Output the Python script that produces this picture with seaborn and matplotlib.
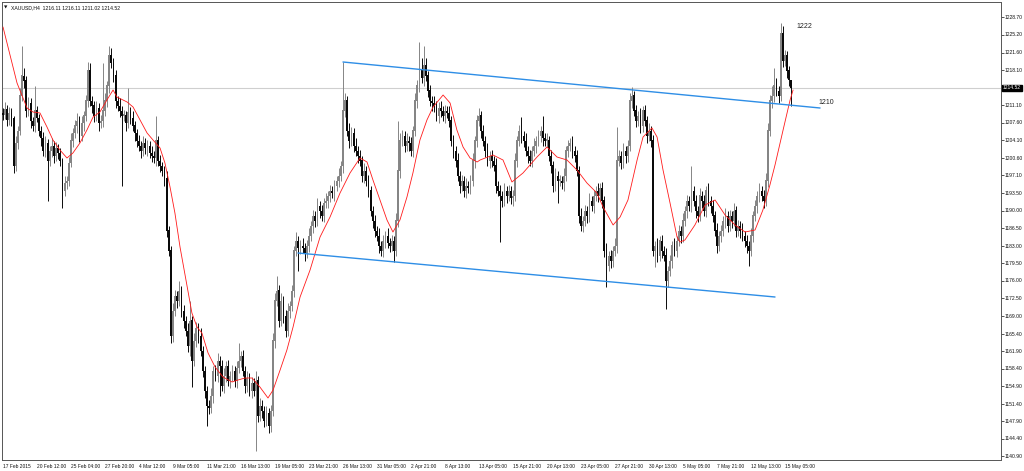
import numpy as np
import pandas as pd
import matplotlib
matplotlib.use("Agg")
import matplotlib.pyplot as plt
import matplotlib.transforms as mtransforms
import seaborn as sns

# XAUUSD H4 closes, one per bar (17 Feb 2015 20:00 .. 15 May 2015)
closes = [
    1209.1, 1210.3, 1208.2, 1209.5, 1208.5, 1199.0, 1203.5, 1206.0, 1213.0, 1217.0, 1216.0, 1210.0,
    1211.5, 1208.0, 1207.0, 1210.0, 1208.5, 1206.0, 1204.5, 1202.0, 1203.5, 1200.0, 1202.0, 1203.0,
    1201.0, 1202.5, 1201.5, 1200.0, 1194.0, 1195.5, 1196.0, 1199.5, 1204.0, 1205.5, 1207.0, 1208.0,
    1205.0, 1207.5, 1209.0, 1212.0, 1218.0, 1212.0, 1211.0, 1209.0, 1210.5, 1207.5, 1208.0, 1210.0,
    1212.0, 1215.0, 1221.0, 1219.5, 1217.0, 1212.0, 1211.0, 1210.0, 1209.0, 1209.0, 1207.5, 1209.7,
    1208.5, 1207.0, 1205.5, 1204.0, 1203.0, 1202.0, 1203.5, 1202.5, 1203.0, 1201.5, 1201.0, 1200.5,
    1204.0, 1200.0, 1199.0, 1198.0, 1196.5, 1186.0, 1182.0, 1165.0, 1170.0, 1173.0, 1172.0, 1174.0,
    1170.0, 1168.0, 1166.0, 1163.0, 1168.0, 1160.0, 1164.0, 1166.5, 1165.0, 1162.0, 1158.0, 1154.0,
    1151.0, 1150.5, 1153.0, 1158.0, 1157.0, 1160.0, 1159.0, 1155.0, 1157.0, 1159.0, 1156.0, 1157.0,
    1158.0, 1156.0, 1158.5, 1160.0, 1161.0, 1158.0, 1155.0, 1156.5, 1154.0, 1155.5, 1154.0, 1156.0,
    1149.0, 1151.0, 1150.0, 1148.0, 1149.5, 1147.0, 1150.0, 1164.0, 1172.0, 1174.0, 1168.0, 1172.0,
    1169.0, 1166.0, 1170.0, 1171.0, 1174.0, 1182.0, 1184.0, 1182.5, 1183.0, 1182.5, 1181.5, 1183.0,
    1185.0, 1187.0, 1189.0, 1188.0, 1191.0, 1190.0, 1189.0, 1191.5, 1192.0, 1193.0, 1194.0, 1193.5,
    1195.0, 1196.0, 1197.0, 1199.0, 1210.0, 1212.0, 1206.0, 1204.0, 1205.5, 1203.0, 1202.0, 1201.0,
    1200.0, 1197.0, 1198.0, 1196.0, 1194.0, 1190.0, 1188.0, 1186.0, 1185.0, 1183.0, 1182.0, 1184.0,
    1185.0, 1183.5, 1183.0, 1184.0, 1182.0, 1188.0, 1198.0, 1204.0, 1205.0, 1203.0, 1204.0, 1203.5,
    1202.0, 1206.0, 1212.0, 1215.0, 1218.0, 1216.5, 1219.0, 1217.0, 1214.0, 1212.0, 1211.5, 1211.0,
    1209.0, 1210.5, 1210.0, 1209.0, 1210.0, 1209.5, 1208.0, 1204.0, 1202.0, 1200.0, 1197.0, 1195.0,
    1196.0, 1194.0, 1195.0, 1194.5, 1196.0, 1200.0, 1204.0, 1208.0, 1209.0, 1206.0, 1204.0, 1202.0,
    1200.0, 1201.0, 1200.0, 1199.0, 1195.0, 1194.0, 1193.0, 1192.0, 1194.0, 1193.0, 1194.0, 1192.5,
    1193.0, 1200.0, 1204.0, 1206.0, 1205.0, 1204.0, 1202.0, 1201.0, 1200.0, 1202.0, 1203.0, 1204.0,
    1205.0, 1206.0, 1204.5, 1204.0, 1204.0, 1201.0, 1199.0, 1195.0, 1197.0, 1196.0, 1196.0, 1195.5,
    1197.0, 1202.0, 1203.0, 1203.5, 1202.0, 1201.0, 1198.0, 1189.0, 1187.0, 1188.0, 1190.0, 1189.0,
    1192.0, 1191.0, 1193.0, 1194.0, 1193.0, 1194.5, 1192.0, 1182.0, 1179.0, 1181.0, 1180.0, 1182.0,
    1183.0, 1200.0, 1201.0, 1199.5, 1202.0, 1201.0, 1203.0, 1212.0, 1213.0, 1210.0, 1208.0, 1209.0,
    1207.0, 1210.0, 1208.0, 1205.0, 1206.0, 1204.0, 1182.0, 1183.0, 1181.0, 1184.0, 1182.0, 1181.0,
    1176.0, 1178.0, 1180.0, 1183.0, 1182.0, 1184.0, 1186.0, 1185.0, 1188.0, 1190.0, 1192.0, 1191.0,
    1194.0, 1192.0, 1190.0, 1189.0, 1193.0, 1192.0, 1190.0, 1194.0, 1192.0, 1191.0, 1189.0, 1186.0,
    1183.0, 1185.0, 1186.0, 1188.0, 1189.0, 1187.0, 1189.0, 1188.0, 1190.0, 1186.0, 1187.0, 1186.0,
    1185.0, 1184.0, 1183.0, 1182.0, 1185.0, 1189.0, 1191.0, 1193.0, 1194.0, 1193.0, 1192.0, 1196.0,
    1206.0, 1212.0, 1213.0, 1215.0, 1214.0, 1213.0, 1225.5, 1220.0, 1221.0, 1218.0, 1216.1, 1214.5,
]
first_open = 1209.5

# wick lengths above / below the body, in dollars
upper_wicks = [
    1.0, 1.5, 0.8, 1.2, 1.0, 0.5, 1.5, 1.0, 1.5, 6.0, 1.5, 1.0,
    1.2, 1.0, 0.8, 5.0, 1.0, 0.8, 1.0, 1.2, 1.5, 0.8, 1.0, 1.5,
    1.0, 1.2, 0.8, 1.0, 0.5, 1.5, 1.0, 1.2, 1.5, 1.0, 1.2, 1.5,
    1.0, 1.5, 1.0, 1.2, 1.7, 1.5, 1.0, 1.0, 1.5, 1.0, 1.2, 9.5,
    1.5, 1.0, 2.0, 1.5, 1.0, 1.2, 1.0, 1.5, 1.0, 1.2, 1.0, 4.8,
    1.0, 1.5, 1.0, 0.8, 1.2, 1.0, 1.5, 1.0, 1.2, 1.0, 1.5, 1.0,
    5.0, 1.0, 1.2, 0.8, 1.0, 1.5, 1.0, 1.0, 1.5, 1.2, 1.0, 2.0,
    1.0, 1.2, 1.0, 1.5, 4.0, 1.0, 1.5, 1.2, 1.0, 1.5, 1.0, 1.0,
    1.0, 1.2, 1.5, 1.0, 1.2, 1.5, 1.0, 1.2, 1.5, 1.0, 1.2, 1.0,
    1.2, 1.0, 1.5, 3.5, 1.0, 1.2, 1.0, 1.5, 1.0, 1.2, 1.0, 2.0,
    1.0, 1.5, 1.2, 1.0, 1.5, 1.0, 1.2, 1.5, 1.5, 3.0, 1.2, 1.5,
    1.0, 1.2, 1.5, 1.0, 1.2, 1.0, 1.7, 1.0, 1.2, 1.5, 1.0, 1.2,
    1.5, 1.0, 1.2, 1.0, 1.5, 1.0, 1.2, 1.0, 1.5, 1.0, 1.2, 1.0,
    1.2, 1.0, 1.5, 1.0, 9.7, 1.5, 1.0, 1.5, 1.2, 1.0, 1.5, 1.0,
    1.2, 1.0, 1.5, 1.0, 1.2, 1.0, 1.0, 1.2, 1.0, 1.5, 1.0, 1.2,
    1.0, 1.5, 1.0, 1.2, 1.0, 1.5, 10.0, 1.5, 1.2, 1.0, 1.5, 1.0,
    1.2, 1.0, 1.5, 1.2, 5.7, 2.5, 4.0, 1.5, 1.0, 1.2, 1.0, 1.5,
    1.0, 1.2, 1.5, 1.0, 1.2, 1.0, 1.5, 1.0, 1.2, 1.0, 1.5, 1.0,
    1.2, 1.0, 1.5, 1.0, 1.2, 1.5, 1.0, 1.2, 1.5, 1.0, 1.2, 1.0,
    1.5, 1.0, 1.2, 1.0, 1.5, 1.0, 1.2, 1.0, 1.5, 1.0, 1.2, 1.0,
    1.2, 1.5, 1.0, 1.2, 2.7, 1.0, 1.5, 1.0, 1.2, 1.0, 1.5, 1.0,
    1.2, 1.0, 3.0, 1.0, 1.5, 1.0, 1.2, 1.0, 1.5, 1.0, 1.2, 1.0,
    1.5, 1.0, 1.2, 1.0, 1.5, 1.0, 1.2, 1.0, 1.5, 1.0, 1.2, 1.0,
    1.5, 1.0, 1.2, 1.0, 1.5, 1.0, 1.2, 1.0, 1.5, 1.0, 1.2, 1.0,
    1.5, 6.7, 1.2, 1.0, 1.5, 1.0, 1.2, 1.5, 1.7, 1.0, 1.2, 1.0,
    1.5, 1.0, 1.2, 1.0, 1.5, 1.0, 1.2, 1.0, 1.5, 1.0, 1.2, 1.0,
    1.5, 1.0, 1.2, 1.0, 1.5, 1.0, 1.2, 1.0, 1.5, 1.0, 1.2, 1.0,
    5.0, 1.0, 1.2, 1.0, 1.5, 1.0, 1.2, 1.0, 1.5, 1.0, 1.2, 1.0,
    1.5, 1.0, 1.2, 1.0, 1.5, 1.0, 1.2, 1.0, 1.5, 1.0, 1.2, 1.0,
    1.5, 1.0, 1.2, 1.0, 1.5, 1.0, 1.2, 1.0, 1.5, 1.0, 1.2, 1.5,
    1.5, 1.2, 2.0, 3.5, 1.5, 1.0, 2.0, 1.5, 1.2, 1.0, 1.0, 0.0,
]
lower_wicks = [
    1.0, 0.8, 1.2, 1.0, 1.5, 1.5, 1.0, 1.2, 0.8, 1.0, 1.5, 1.2,
    1.0, 1.5, 1.0, 1.2, 0.8, 1.0, 1.5, 1.0, 1.2, 8.0, 1.0, 1.2,
    1.5, 1.0, 1.2, 1.0, 3.5, 1.0, 1.2, 1.0, 0.8, 1.2, 1.0, 1.5,
    1.2, 1.0, 1.5, 1.0, 1.2, 1.0, 1.5, 1.2, 1.0, 1.5, 1.0, 1.2,
    1.0, 1.2, 1.5, 1.0, 1.2, 1.5, 1.0, 1.2, 14.0, 1.0, 1.5, 1.0,
    1.2, 1.0, 1.5, 1.2, 1.0, 1.5, 1.0, 1.2, 1.5, 1.0, 1.2, 1.0,
    1.5, 1.0, 1.2, 1.0, 1.5, 1.2, 1.0, 1.5, 1.2, 1.0, 1.5, 1.0,
    1.2, 1.5, 1.0, 1.2, 2.0, 5.3, 1.0, 1.2, 1.5, 1.0, 1.2, 1.5,
    4.0, 1.2, 1.0, 1.5, 1.0, 1.2, 6.0, 1.0, 1.5, 1.2, 1.0, 1.5,
    1.0, 1.2, 1.5, 1.0, 1.2, 1.0, 1.5, 1.2, 1.0, 1.5, 1.0, 12.0,
    1.2, 1.0, 1.5, 1.2, 1.0, 1.5, 1.2, 1.0, 1.5, 1.0, 1.2, 1.0,
    1.5, 1.2, 1.0, 1.5, 1.0, 1.2, 1.0, 4.5, 1.2, 1.0, 1.5, 1.0,
    1.2, 1.0, 1.5, 1.2, 1.0, 1.5, 1.0, 1.2, 1.0, 1.5, 1.2, 1.0,
    1.5, 1.0, 1.2, 1.0, 1.5, 1.2, 1.0, 1.5, 1.0, 1.2, 1.0, 1.5,
    1.0, 1.2, 1.5, 1.0, 1.2, 1.0, 1.5, 1.2, 1.0, 1.5, 1.0, 1.2,
    1.5, 1.0, 1.2, 1.0, 2.3, 1.0, 1.2, 1.5, 1.0, 1.2, 1.0, 1.5,
    1.0, 1.2, 1.0, 1.5, 1.2, 1.0, 1.5, 1.0, 1.2, 1.0, 1.5, 1.2,
    1.0, 1.5, 1.2, 1.0, 1.5, 1.0, 1.2, 1.0, 1.5, 1.2, 1.0, 1.5,
    1.0, 1.2, 1.5, 1.0, 1.2, 1.0, 1.5, 1.2, 1.0, 1.5, 1.0, 1.2,
    1.0, 1.5, 1.2, 1.0, 1.5, 1.0, 9.3, 1.2, 1.0, 1.5, 1.0, 1.2,
    1.5, 1.0, 1.2, 1.0, 1.5, 1.2, 1.0, 1.5, 1.0, 1.2, 1.0, 1.5,
    1.0, 1.2, 1.5, 1.0, 1.2, 1.0, 1.5, 1.2, 1.0, 4.5, 1.0, 1.2,
    1.5, 1.0, 1.2, 1.0, 1.5, 1.2, 1.0, 1.5, 1.0, 1.2, 1.0, 1.5,
    1.2, 1.0, 1.5, 1.0, 1.2, 1.0, 1.5, 1.2, 4.3, 1.0, 1.5, 1.2,
    1.0, 1.5, 1.0, 1.2, 1.0, 1.5, 1.2, 1.0, 1.5, 1.0, 1.2, 1.0,
    1.5, 1.2, 1.0, 1.5, 1.0, 1.2, 1.0, 3.3, 1.2, 1.0, 1.5, 1.0,
    5.7, 1.2, 1.0, 1.5, 1.0, 1.2, 1.0, 1.5, 1.2, 1.0, 1.5, 1.0,
    1.2, 1.0, 1.5, 1.2, 1.0, 1.5, 1.0, 1.2, 1.0, 1.5, 1.2, 1.0,
    1.5, 1.0, 1.2, 1.0, 1.5, 1.2, 1.0, 1.5, 1.0, 1.2, 1.0, 1.5,
    1.0, 1.2, 1.5, 3.0, 1.0, 1.2, 1.0, 1.5, 1.2, 1.0, 1.5, 1.0,
    1.2, 1.0, 1.5, 1.2, 1.0, 1.5, 1.0, 1.2, 1.0, 1.5, 1.2, 3.5,
]

# red moving average at these bars
ma_bars = [0, 6.6, 11.3, 14.1, 17.4, 20.7, 23.5, 26.8, 30.1, 32.9, 36.2, 39.5, 42.4, 45.6,
           48.9, 51.8, 53.6, 58.4, 61.2, 64.5, 67.8, 70.6, 73.9, 76.2, 78.6, 80.9, 83.3,
           88.9, 91.3, 93.6, 96.5, 99.8, 103.5, 107.8, 110.6, 113.9, 117.2, 120.9, 124.7,
           127.1, 130.4, 133.6, 136.5, 139.8, 144.5, 149.2, 153.9, 158.6, 163.3, 168.0,
           171.3, 174.1, 177.4, 180.7, 183.5, 186.8, 190.1, 192.9, 196.2, 199.5, 202.4,
           207.1, 210.4, 213.6, 216.5, 219.8, 223.1, 224.5, 230.6, 235.3, 239.5, 244.7,
           251.3, 256.0, 260.7, 265.4, 270.1, 274.8, 279.5, 282.4, 287.1, 290.4, 294.1,
           298.4, 301.2, 305.4, 307.8, 310.6, 313.9, 317.2, 318.6, 320.9, 325.6, 330.4,
           335.1, 339.8, 344.5, 349.2, 353.9, 357.6, 360.9, 363.3, 367.1, 370.4, 371.8]
ma_values = [1226.7, 1215.5, 1210.5, 1209.7, 1209.5, 1206.7, 1204.1, 1202.1, 1200.5, 1201.5,
             1203.5, 1206.1, 1208.7, 1209.7, 1212.1, 1214.1, 1212.7, 1211.7, 1210.7, 1208.1,
             1205.5, 1204.1, 1202.5, 1199.5, 1194.7, 1189.5, 1182.7, 1169.5, 1166.7, 1165.5,
             1161.5, 1158.7, 1156.7, 1155.7, 1156.1, 1156.5, 1156.5, 1154.7, 1152.5, 1154.1,
             1158.1, 1162.1, 1166.7, 1172.7, 1178.1, 1184.7, 1188.7, 1193.5, 1197.5, 1200.5,
             1199.7, 1196.1, 1192.1, 1188.1, 1185.7, 1188.1, 1192.7, 1197.5, 1204.1, 1208.1,
             1210.7, 1213.1, 1211.5, 1206.1, 1202.7, 1200.5, 1199.7, 1200.1, 1201.1, 1200.1,
             1195.7, 1197.5, 1200.7, 1202.7, 1200.7, 1200.1, 1198.1, 1195.5, 1193.5, 1190.7,
             1187.1, 1188.7, 1192.1, 1200.1, 1204.7, 1206.5, 1204.7, 1198.1, 1191.5, 1184.7,
             1183.7, 1184.1, 1187.1, 1191.1, 1192.1, 1189.1, 1187.1, 1185.7, 1186.1, 1190.1,
             1195.1, 1199.1, 1206.1, 1212.1, 1214.1]

# channel trend lines (bar, price) end points
upper_line_bars = [160.0, 384.5]
upper_line_prices = [1219.7, 1210.5]
lower_line_bars = [138.8, 363.3]
lower_line_prices = [1181.5, 1172.7]

date_labels = ["17 Feb 2015", "20 Feb 12:00", "25 Feb 04:00", "27 Feb 20:00", "4 Mar 12:00",
               "9 Mar 05:00", "11 Mar 21:00", "16 Mar 13:00", "19 Mar 05:00", "23 Mar 21:00",
               "26 Mar 13:00", "31 Mar 05:00", "2 Apr 21:00", "8 Apr 13:00", "13 Apr 05:00",
               "15 Apr 21:00", "20 Apr 13:00", "23 Apr 05:00", "27 Apr 21:00", "30 Apr 13:00",
               "5 May 05:00", "7 May 21:00", "12 May 13:00", "15 May 05:00"]
price_ticks = [1228.70, 1225.20, 1221.60, 1218.10, 1211.10, 1207.60, 1204.10, 1200.60,
               1197.10, 1193.50, 1190.00, 1186.50, 1183.00, 1179.50, 1176.00, 1172.50,
               1169.00, 1165.40, 1161.90, 1158.40, 1154.90, 1151.40, 1147.90, 1144.40, 1140.90]
last_price = 1214.52
header = "XAUUSD,H4  1216.11 1216.11 1211.02 1214.52"
notes = [("1222", 373.5, 1226.7), ("1210", 383.8, 1211.5)]

sns.set_theme(style="white")
plt.rcParams["font.family"] = ["Liberation Sans", "DejaVu Sans"]

W, H = 1024, 471
fig = plt.figure(figsize=(W / 100, H / 100), dpi=100)
ax = fig.add_axes([1.5 / W, (H - 459.5) / H, 999 / W, 458 / H])

df = pd.DataFrame({"close": closes})
df["open"] = [first_open] + closes[:-1]
df["bar"] = np.arange(len(df))
body_lo = df[["open", "close"]].min(axis=1)
body_hi = df[["open", "close"]].max(axis=1)
df["high"] = body_hi + np.array(upper_wicks)
df["low"] = body_lo - np.array(lower_wicks)
colors = np.where(df["close"] >= df["open"], "#858585", "#0a0a0a")

ax.axhline(last_price, color="#cfcfcf", linewidth=0.8, zorder=0)
ax.vlines(df["bar"], df["low"], df["high"], colors=colors, linewidth=0.7, zorder=2)
ax.bar(df["bar"], (body_hi - body_lo).clip(lower=0.25), bottom=body_lo, width=0.85,
       color=colors, linewidth=0, zorder=3)

ma = pd.DataFrame({"bar": ma_bars, "ma": ma_values})
sns.lineplot(data=ma, x="bar", y="ma", color="#ff1a1a", linewidth=0.6, ax=ax, zorder=4)

ax.plot(upper_line_bars, upper_line_prices, color="#2e8ee6", linewidth=1.0, zorder=5)
ax.plot(lower_line_bars, lower_line_prices, color="#2e8ee6", linewidth=1.0, zorder=5)

for txt, bx, py in notes:
    ax.text(bx, py, txt, fontsize=5, color="#222222", va="center", ha="left")

ax.set_xlim((1.5 - 3) / 2.125, (1000.5 - 3) / 2.125)
ax.set_ylim(1140.2, 1231.8)
ax.set_xlabel("")
ax.set_ylabel("")

ax.yaxis.tick_right()
ax.set_yticks(price_ticks)
ax.set_yticklabels([f"{p:.2f}" for p in price_ticks])
ax.set_xticks(np.arange(len(date_labels)) * 16)
ax.set_xticklabels(date_labels)
for lbl in ax.get_xticklabels():
    lbl.set_horizontalalignment("left")
ax.tick_params(axis="y", labelsize=3.6, length=1.8, width=0.5, pad=1.0, colors="#111111")
ax.tick_params(axis="x", labelsize=3.5, length=1.8, width=0.5, pad=1.2, colors="#111111")

for side, sp in ax.spines.items():
    sp.set_linewidth(0.7)
    sp.set_color("#555555")

trans = mtransforms.blended_transform_factory(ax.transAxes, ax.transData)
ax.text(1.0025, last_price, f"{last_price:.2f}", transform=trans, fontsize=3.6, color="white",
        va="center", ha="left",
        bbox=dict(boxstyle="square,pad=0.15", facecolor="black", edgecolor="black"))

fig.text(4 / W, 1 - 7.5 / H, "\u25bc", fontsize=3.2, color="#111111", va="center",
         family=["DejaVu Sans"])
fig.text(11 / W, 1 - 7.5 / H, header, fontsize=3.7, color="#111111", va="center")

fig.savefig("out.png", dpi=100)
